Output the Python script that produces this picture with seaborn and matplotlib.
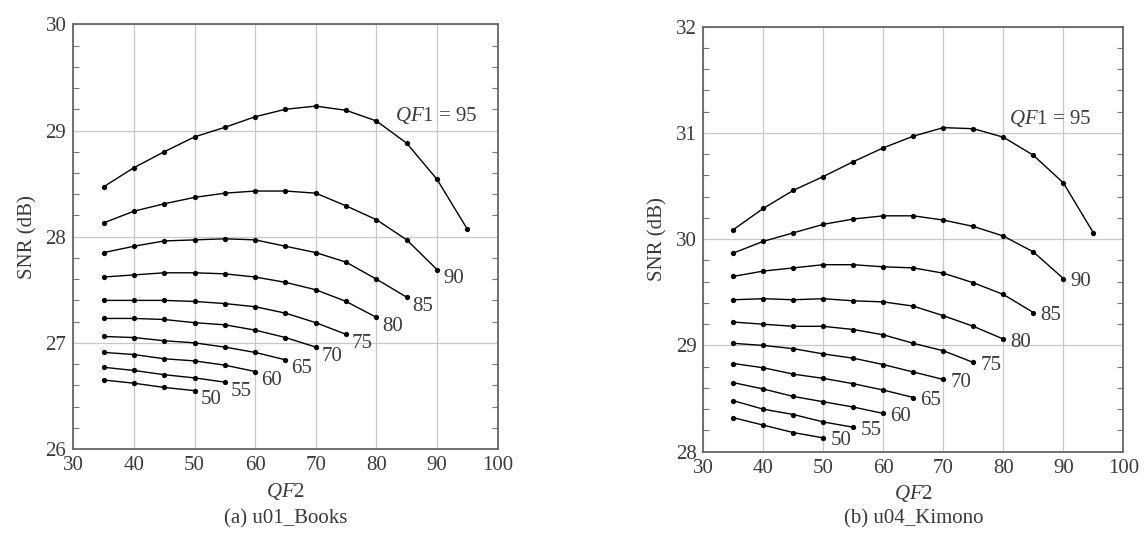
"""
Curvas SNR vs QF2 para distintos QF1 (u01_Books, u04_Kimono)
"""

import numpy as np
import pandas as pd
import matplotlib
matplotlib.use('Agg')
import matplotlib.pyplot as plt
from matplotlib.ticker import MultipleLocator
import seaborn as sns

# ── datos ────────────────────────────────────────────────────────────────────
qf1_values = [50, 55, 60, 65, 70, 75, 80, 85, 90, 95]
qf2_start = 35

books_snr = [
    [26.65, 26.62, 26.58, 26.55],
    [26.77, 26.74, 26.70, 26.67, 26.63],
    [26.91, 26.89, 26.85, 26.83, 26.79, 26.73],
    [27.06, 27.05, 27.02, 27.00, 26.96, 26.91, 26.84],
    [27.23, 27.23, 27.22, 27.19, 27.17, 27.12, 27.05, 26.96],
    [27.40, 27.40, 27.40, 27.39, 27.37, 27.34, 27.28, 27.19, 27.08],
    [27.62, 27.64, 27.66, 27.66, 27.65, 27.62, 27.57, 27.50, 27.39, 27.24],
    [27.85, 27.91, 27.96, 27.97, 27.98, 27.97, 27.91, 27.85, 27.76, 27.60, 27.43],
    [28.13, 28.24, 28.31, 28.37, 28.41, 28.43, 28.43, 28.41, 28.29, 28.16, 27.97, 27.69],
    [28.47, 28.65, 28.80, 28.94, 29.03, 29.13, 29.20, 29.23, 29.19, 29.09, 28.88, 28.54, 28.07],
]

kimono_snr = [
    [28.32, 28.25, 28.18, 28.13],
    [28.48, 28.40, 28.35, 28.28, 28.23],
    [28.65, 28.59, 28.52, 28.47, 28.42, 28.36],
    [28.83, 28.79, 28.73, 28.69, 28.64, 28.58, 28.51],
    [29.02, 29.00, 28.97, 28.92, 28.88, 28.82, 28.75, 28.68],
    [29.22, 29.20, 29.18, 29.18, 29.15, 29.10, 29.02, 28.95, 28.84],
    [29.43, 29.44, 29.43, 29.44, 29.42, 29.41, 29.37, 29.28, 29.18, 29.06],
    [29.65, 29.70, 29.73, 29.76, 29.76, 29.74, 29.73, 29.68, 29.59, 29.48, 29.31],
    [29.87, 29.98, 30.06, 30.14, 30.19, 30.22, 30.22, 30.18, 30.12, 30.03, 29.88, 29.63],
    [30.09, 30.29, 30.46, 30.59, 30.73, 30.86, 30.97, 31.05, 31.04, 30.96, 30.79, 30.53, 30.06],
]

panel_titles = ['(a) u01_Books', '(b) u04_Kimono']
y_limits = [(26, 30), (28, 32)]


def a_tabla(snr_lists):
    filas = []
    for qf1, valores in zip(qf1_values, snr_lists):
        for i, v in enumerate(valores):
            filas.append({'QF1': qf1, 'QF2': qf2_start + 5 * i, 'SNR': v})
    return pd.DataFrame(filas)


# ── estilo ───────────────────────────────────────────────────────────────────
sns.set_style('whitegrid')
plt.rcParams['font.family'] = ['Liberation Serif', 'DejaVu Serif']
plt.rcParams['mathtext.fontset'] = 'custom'
plt.rcParams['mathtext.rm'] = 'Liberation Serif'
plt.rcParams['mathtext.it'] = 'Liberation Serif:italic'

TXT = '#3a3a3a'
FS = 15
fig = plt.figure(figsize=(11.47, 5.35), dpi=100)
ax_pos = [[0.0639, 0.1607, 0.3700, 0.7938],
          [0.6132, 0.1557, 0.3662, 0.7944]]
label_offset = [(6, -9), (7, -3)]
qf95_x = [83, 81]

for k, snr_lists in enumerate([books_snr, kimono_snr]):
    ax = fig.add_axes(ax_pos[k])
    df = a_tabla(snr_lists)
    sns.lineplot(data=df, x='QF2', y='SNR', units='QF1', estimator=None,
                 color='black', marker='o', markersize=3.8, markeredgewidth=0,
                 linewidth=1.0, legend=False, ax=ax)

    # etiquetas de cada curva
    for qf1, valores in zip(qf1_values[:-1], snr_lists[:-1]):
        ax.annotate(str(qf1), (qf1, valores[-1]), xytext=label_offset[k],
                    textcoords='offset pixels', ha='left', va='center',
                    fontsize=FS, color=TXT)
    ax.text(qf95_x[k], y_limits[k][0] + 3.14, r'$\mathit{QF}$1 = 95',
            ha='left', va='center', fontsize=FS, color=TXT)

    ax.set_xlim(30, 100)
    ax.set_ylim(*y_limits[k])
    ax.xaxis.set_major_locator(MultipleLocator(10))
    ax.yaxis.set_major_locator(MultipleLocator(1))
    ax.yaxis.set_minor_locator(MultipleLocator(0.2))
    ax.grid(True, which='major', color='#c8c8c8', linewidth=0.9)
    ax.grid(False, which='minor')
    ax.tick_params(axis='both', which='major', labelsize=FS, labelcolor=TXT,
                   direction='in', length=0, pad=5)
    ax.tick_params(axis='y', which='minor', direction='in', length=4,
                   width=0.8, color='#777777', left=True, right=True)
    for s in ax.spines.values():
        s.set_color('#666666')
        s.set_linewidth(1.3)

    ax.set_xlabel(r'$\mathit{QF}$2', fontsize=FS, color=TXT, labelpad=4)
    ax.set_ylabel('SNR (dB)', fontsize=FS, color=TXT, labelpad=6)
    cx = ax_pos[k][0] + ax_pos[k][2] / 2
    fig.text(cx, 0.03, panel_titles[k], ha='center', va='center',
             fontsize=FS, color=TXT)

plt.savefig('out.png', dpi=100)
plt.close()
